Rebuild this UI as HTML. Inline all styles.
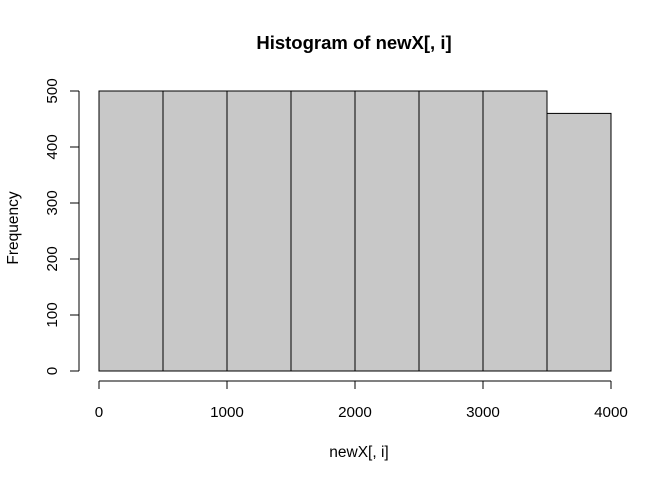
<!DOCTYPE html>
<html><head><meta charset="utf-8"><style>
body{margin:0;background:#fff}
text{font-family:"Liberation Sans",Arial,sans-serif;fill:#000}
</style></head><body>
<svg id="chart" width="672" height="480" viewBox="0 0 672 480" xmlns="http://www.w3.org/2000/svg">
<text x="354" y="49" text-anchor="middle" font-size="18.5" font-weight="bold">Histogram of newX[, i]</text>
<text x="359" y="457" text-anchor="middle" font-size="15.5">newX[, i]</text>
<text transform="translate(18,228) rotate(-90)" text-anchor="middle" font-size="15.5">Frequency</text>
<g id="bars"></g><g id="xaxis"></g><g id="yaxis"></g>
</svg>
<script>
const binStarts=[0,500,1000,1500,2000,2500,3000,3500];
const binWidth=500;
const counts=[500,500,500,500,500,500,500,460];
const xTicks=[0,1000,2000,3000,4000];
const yTicks=[0,100,200,300,400,500];
const NS="http://www.w3.org/2000/svg";
const xs=v=>99+v*(512/4000);
const ys=v=>371-v*(280/500);
function mk(t,a,p){const e=document.createElementNS(NS,t);for(const k in a)e.setAttribute(k,a[k]);p.appendChild(e);return e;}
const bars=document.getElementById('bars');
binStarts.forEach((s,i)=>{
 const r=mk('rect',{x:xs(s),y:ys(counts[i]),width:xs(s+binWidth)-xs(s),height:ys(0)-ys(counts[i]),fill:'#c8c8c8',stroke:'#000','stroke-width':1},bars);
 
 
});
const xa=document.getElementById('xaxis');
mk('line',{x1:xs(xTicks[0]),x2:xs(xTicks[xTicks.length-1]),y1:381,y2:381,stroke:'#000'},xa);
xTicks.forEach(t=>{
 mk('line',{x1:xs(t),x2:xs(t),y1:381,y2:389,stroke:'#000'},xa);
 const tx=mk('text',{x:xs(t),y:417,'text-anchor':'middle','font-size':15.2},xa);
 tx.textContent=t;
 
 
});
const ya=document.getElementById('yaxis');
mk('line',{x1:79,x2:79,y1:ys(yTicks[0]),y2:ys(yTicks[yTicks.length-1]),stroke:'#000'},ya);
yTicks.forEach(t=>{
 mk('line',{x1:70,x2:79,y1:ys(t),y2:ys(t),stroke:'#000'},ya);
 const tx=mk('text',{transform:`translate(57,${ys(t)}) rotate(-90)`,'text-anchor':'middle','font-size':15.2},ya);
 tx.textContent=t;
 
 
});
</script>
</body></html>
